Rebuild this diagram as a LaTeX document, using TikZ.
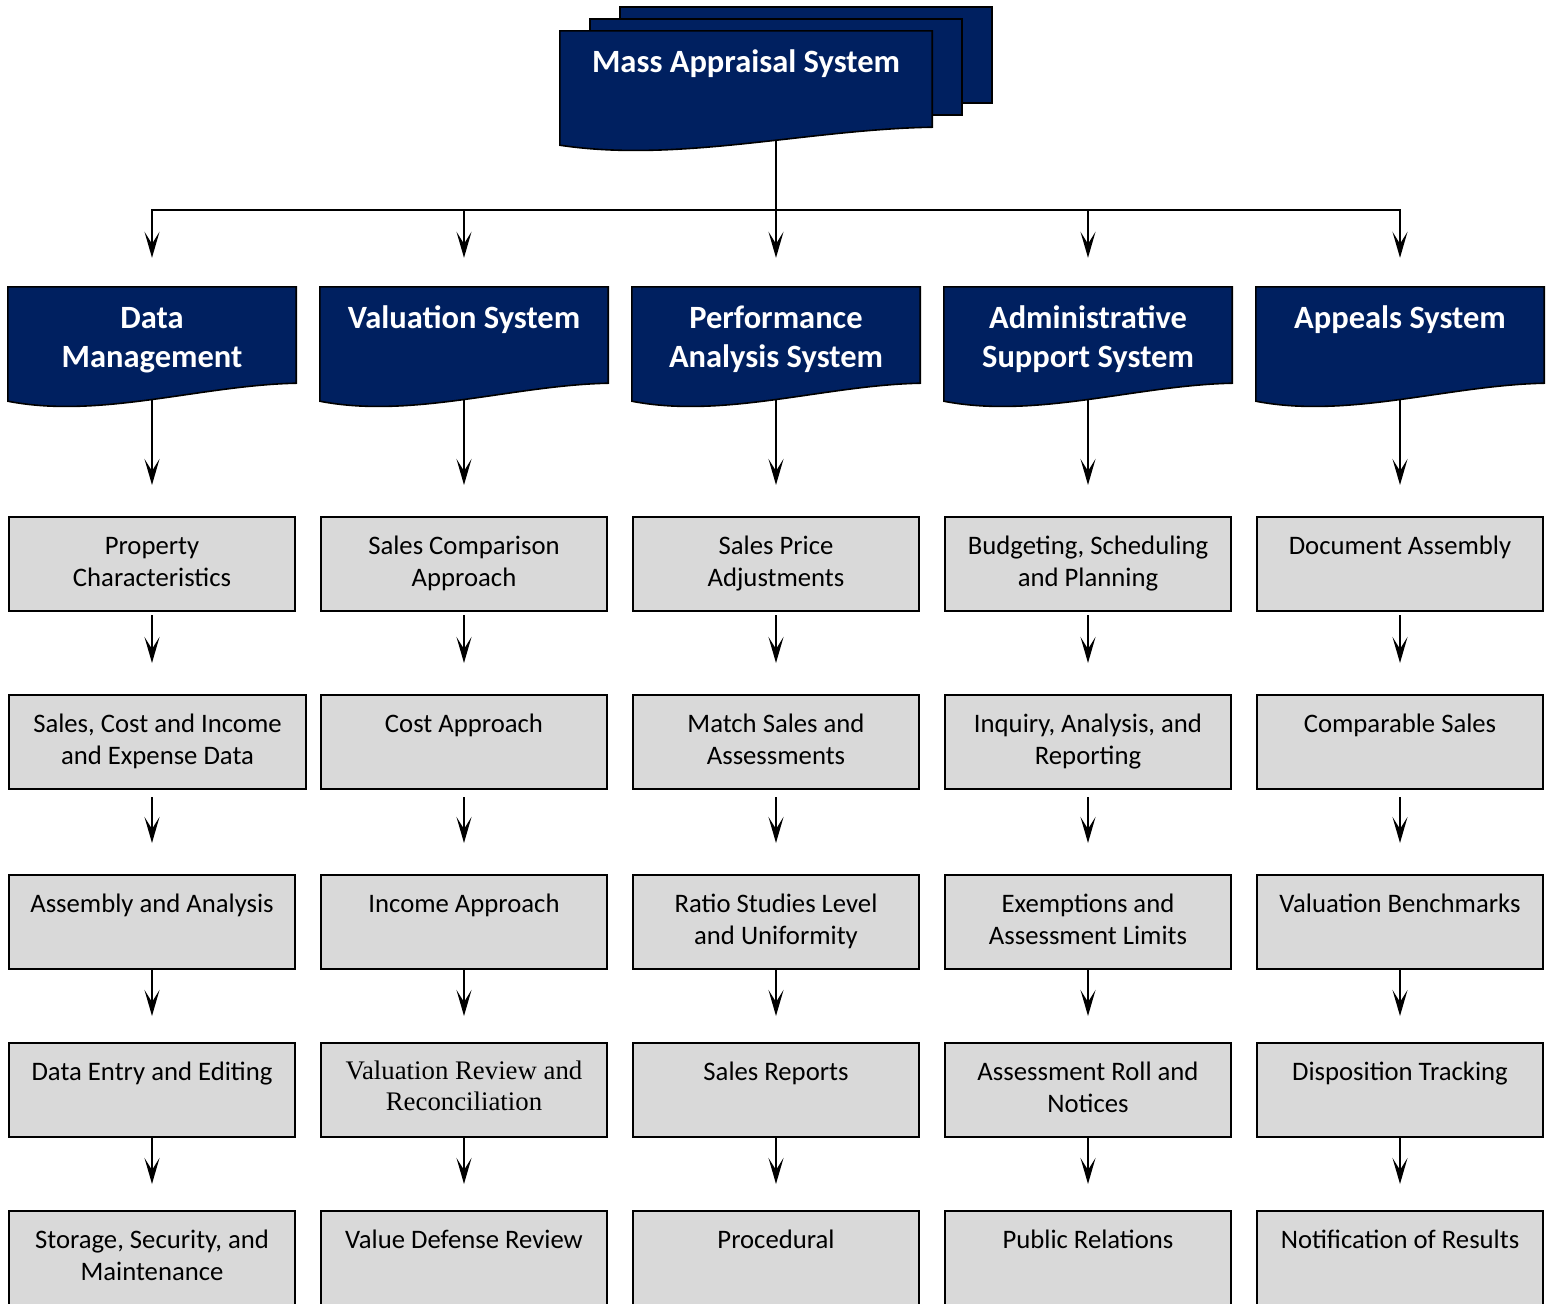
\documentclass[tikz,border=0pt]{standalone}
\usepackage{fontspec}
\setmainfont{Carlito}
\newfontfamily\timesfont{Liberation Serif}
\usetikzlibrary{arrows.meta,calc,backgrounds}

\definecolor{navy}{HTML}{002060}
\definecolor{cellgray}{HTML}{D9D9D9}

\tikzset{
  cell/.style={draw, line width=2pt, fill=cellgray, minimum width=286pt,
    minimum height=94pt, inner sep=0pt, font=\fontsize{26.7}{32}\selectfont,
    execute at begin node={\begin{minipage}[t][63pt][t]{#1}\centering\strut},
    execute at end node={\end{minipage}}},
  cell/.default=280pt,
  head/.style={minimum width=288pt, minimum height=96pt, inner sep=0pt,
    text=white, font=\fontsize{32.5}{39}\selectfont\bfseries,
    execute at begin node={\begin{minipage}[t][68pt][t]{#1}\centering\strut},
    execute at end node={\end{minipage}}},
  head/.default=284pt,
  link/.style={line width=2pt},
  flow/.style={link, -{Stealth[length=26pt,width=15pt,inset=12pt]}}
}

% navy box with a wavy bottom, #2 = where the stem leaves it
\newcommand{\wavebox}[2]{%
  \begin{scope}[on background layer]
    \filldraw[fill=navy, draw=black, line width=1.6pt]
      (#1.north west) -- (#1.north east) -- (#1.south east)
      .. controls ($(#1.south east)!0.333!(#1.south west)+(0,2)$)
             and ($(#1.south west)!0.32!(#1.south east)+(0,36)$)
      .. ($(#1.south west)+(0,18)$) coordinate[pos=#2] (#1w) -- cycle;
  \end{scope}}

\begin{document}
\begin{tikzpicture}[x=1pt, y=-1pt]
  \useasboundingbox (0,0) rectangle (1551,1304);

  % draw top box
  \node[head=366pt, minimum width=372pt] (mas) at (746,79) {Mass Appraisal System};
  \begin{scope}[on background layer]
    \filldraw[fill=navy, draw=black, line width=1.6pt]
      ($(mas.north west)+(60,-24)$) rectangle ($(mas.south east)+(60,-24)$);
    \filldraw[fill=navy, draw=black, line width=1.6pt]
      ($(mas.north west)+(30,-12)$) rectangle ($(mas.south east)+(30,-12)$);
  \end{scope}
  \wavebox{mas}{0.415}

  % draw system headers
  \foreach \i/\x/\t in {1/152/{Data\\Management}, 2/464/{Valuation System},
      3/776/{Performance\\Analysis System}, 4/1088/{Administrative\\Support System},
      5/1400/{Appeals System}} {
    \node[head] (h\i) at (\x,335) {\t};
    \wavebox{h\i}{0.5}
  }

  % draw boxes, column 1
  \node[cell] (b11) at (152,564) {Property\\Characteristics};
  \node[cell=292pt, minimum width=297pt] (b12) at (157.5,742) {Sales, Cost and Income\\and Expense Data};
  \node[cell] (b13) at (152,922) {Assembly and Analysis};
  \node[cell] (b14) at (152,1090) {Data Entry and Editing};
  \node[cell] (b15) at (152,1258) {Storage, Security, and\\Maintenance};

  % draw boxes, column 2
  \node[cell] (b21) at (464,564) {Sales Comparison\\Approach};
  \node[cell] (b22) at (464,742) {Cost Approach};
  \node[cell] (b23) at (464,922) {Income Approach};
  \node[cell, font=\timesfont\fontsize{26.8}{30.5}\selectfont] (b24) at (464,1090) {Valuation Review and\\Reconciliation};
  \node[cell] (b25) at (464,1258) {Value Defense Review};

  % draw boxes, column 3
  \node[cell] (b31) at (776,564) {Sales Price\\Adjustments};
  \node[cell] (b32) at (776,742) {Match Sales and\\Assessments};
  \node[cell] (b33) at (776,922) {Ratio Studies Level\\and Uniformity};
  \node[cell] (b34) at (776,1090) {Sales Reports};
  \node[cell] (b35) at (776,1258) {Procedural};

  % draw boxes, column 4
  \node[cell] (b41) at (1088,564) {Budgeting, Scheduling\\and Planning};
  \node[cell] (b42) at (1088,742) {Inquiry, Analysis, and\\Reporting};
  \node[cell] (b43) at (1088,922) {Exemptions and\\Assessment Limits};
  \node[cell] (b44) at (1088,1090) {Assessment Roll and\\Notices};
  \node[cell] (b45) at (1088,1258) {Public Relations};

  % draw boxes, column 5
  \node[cell] (b51) at (1400,564) {Document Assembly};
  \node[cell] (b52) at (1400,742) {Comparable Sales};
  \node[cell] (b53) at (1400,922) {Valuation Benchmarks};
  \node[cell] (b54) at (1400,1090) {Disposition Tracking};
  \node[cell] (b55) at (1400,1258) {Notification of Results};

  % draw connectors
  \coordinate (bus) at (776,210);
  \draw[link] (masw -| h3) -- (bus);
  \draw[link, line cap=rect] (bus -| h1) -- (bus -| h5);
  \foreach \i in {1,...,5} {
    \draw[flow, shorten >=29pt] (bus -| h\i) -- (h\i.north);
    \draw[flow, shorten >=31pt] (h\i w -| h\i) -- (b\i1.north -| h\i);
    \foreach \r/\s/\a/\b in {1/2/3/31, 2/3/7/31, 3/4/0/26, 4/5/0/26}
      \draw[flow, shorten <=\a pt, shorten >=\b pt] (b\i\r.south -| h\i) -- (b\i\s.north -| h\i);
  }
\end{tikzpicture}
\end{document}
